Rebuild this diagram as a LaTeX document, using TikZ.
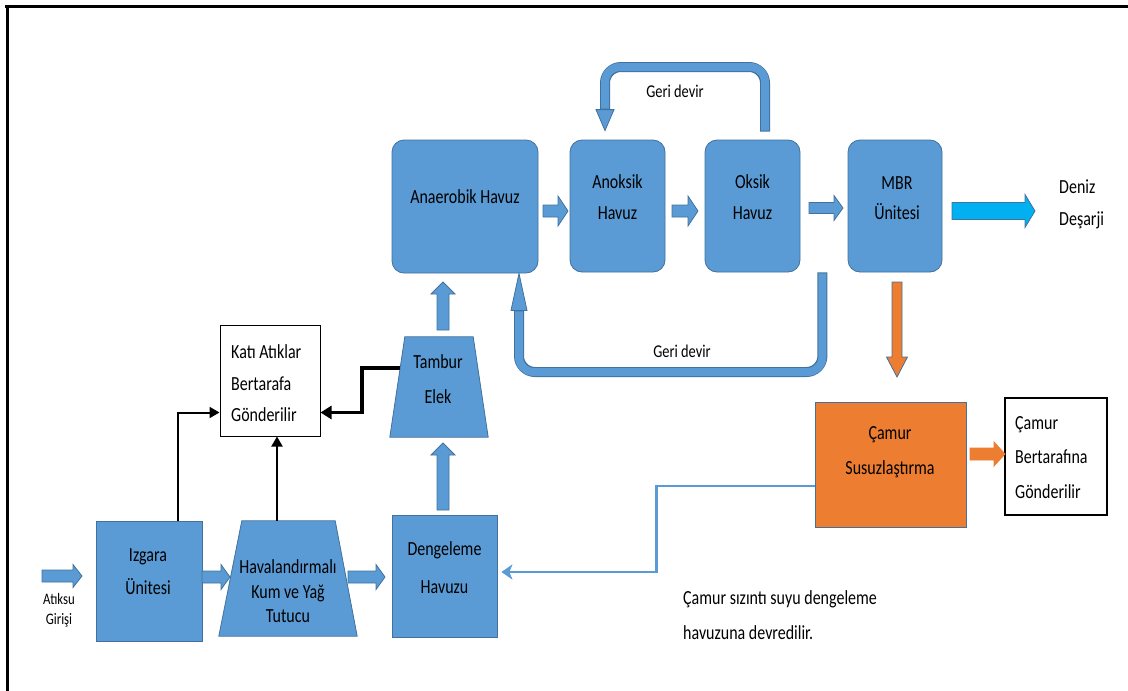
\documentclass[tikz,border=0pt]{standalone}
\usepackage{fontspec}
\setmainfont{Carlito}[FakeStretch=0.8]
\usetikzlibrary{calc,arrows.meta}
\definecolor{blu}{HTML}{5B9BD5}
\definecolor{bord}{HTML}{41719C}
\definecolor{org}{HTML}{ED7D31}
\definecolor{cyn}{HTML}{00B0F0}
\tikzset{
  pics/barrow/.style args={#1/#2/#3/#4/#5/#6}{code={
    \filldraw[fill=#5, draw=#6, line width=0.8pt] (0,-#2/2) -- ({#1-#4},-#2/2) -- ({#1-#4},-#3/2) -- (#1,0) -- ({#1-#4},#3/2) -- ({#1-#4},#2/2) -- (0,#2/2) -- cycle;
  }},
  rbox/.style={draw=bord, fill=blu, line width=0.8pt, rounded corners=12pt, inner sep=0},
  sbox/.style={draw=bord, fill=blu, line width=0.8pt, inner sep=0},
  wbox/.style={draw=black, line width=1pt, fill=white, inner sep=0},
  txt/.style={inner sep=0, align=center},
  ltxt/.style={inner sep=0, align=left, anchor=west},
  blk/.style={draw=black, line width=2pt, -{Triangle[length=10pt,width=11pt]}},
  blkthick/.style={draw=black, line width=3.5pt, -{Triangle[length=11pt,width=13pt]}},
  bandout/.style={draw=bord, line width=10pt, rounded corners=16pt},
  bandin/.style={draw=blu, line width=8pt, rounded corners=15pt},
  bandhead/.style={fill=blu, draw=bord, line width=0.8pt},
}
\begin{document}
\begin{tikzpicture}[x=1pt,y=-1pt, font=\fontsize{20}{31}\selectfont]
\useasboundingbox (0,0) rectangle (1128,691);
% frame
\draw[line width=3pt] (5,6) -- (1128,6);
\draw[line width=3pt] (7,4.5) -- (7,691);

% top row boxes
\node[rbox, minimum width=146pt, minimum height=133pt] (anaer) at (465,206.5) {};
\node[rbox, minimum width=95pt, minimum height=132pt] (anox) at (617.5,206) {};
\node[rbox, minimum width=95pt, minimum height=132pt] (oksik) at (752.5,206) {};
\node[rbox, minimum width=94pt, minimum height=132pt] (mbr) at (895,206) {};
\node[txt] (anaerT) at (465,197) {Anaerobik Havuz};
\node[txt] (anoxT) at (617.5,197.5) {Anoksik\\Havuz};
\node[txt] (oksikT) at (752.5,197.5) {Oksik\\Havuz};
\node[txt, font=\fontsize{20}{30}\selectfont] (mbrT) at (897,198) {MBR\\Ünitesi};
\node[ltxt, font=\fontsize{20}{32}\selectfont] (deniz) at (1059,204) {Deniz\\Deşarji};

% top row block arrows
\pic at (543,211) {barrow=25/12/30/10/blu/bord};
\pic at (672,211) {barrow=26/12/30/10/blu/bord};
\pic at (809,208) {barrow=34/11/25/9/blu/bord};
\pic at (952,211) {barrow=83/17/33/10/cyn/bord};

% top recirculation
\coordinate (g1s) at ($(oksik.north)+(12.5,-9)$);
\coordinate (g1e) at ($(anox.north)+(-12.5,-30)$);
\draw[bandout] ($(g1s)+(0,1)$) -- (g1s |- 0,67) -- (g1e |- 0,67) -- (g1e);
\draw[bandin] (g1s) -- (g1s |- 0,67) -- (g1e |- 0,67) -- ($(g1e)+(0,-1)$);
\filldraw[bandhead] ($(g1e)+(-9,0)$) -- ($(g1e)+(9,0)$) -- ($(anox.north)+(-12.5,-9)$) -- cycle;
\node[txt, font=\fontsize{18}{20}\selectfont] (geri1) at (675,91) {Geri devir};

% bottom recirculation
\coordinate (g2s) at ($(oksik.south east)+(22,1)$);
\coordinate (g2e) at ($(anaer.south)+(54,37)$);
\draw[bandout] ($(g2s)+(0,-1)$) -- (g2s |- 0,372) -- (g2e |- 0,372) -- (g2e);
\draw[bandin] (g2s) -- (g2s |- 0,372) -- (g2e |- 0,372) -- ($(g2e)+(0,1)$);
\filldraw[bandhead] ($(g2e)+(-8,0)$) -- ($(g2e)+(8,0)$) -- ($(anaer.south)+(54,0)$) -- cycle;
\node[txt, font=\fontsize{18}{20}\selectfont] (geri2) at (682,351) {Geri devir};

% MBR down arrow
\pic[rotate=-90] at (897,282) {barrow=95/10/21/20/org/bord};

% Tambur Elek
\node[inner sep=0, minimum width=98pt, minimum height=100pt] (tambur) at (439,387) {};
\coordinate (tl) at ($(tambur.north west)+(15,0)$);
\filldraw[fill=blu, draw=bord, line width=0.8pt] (tambur.south west) -- (tambur.south east) -- ($(tambur.north east)+(-15,0)$) -- (tl) -- cycle;
\node[txt, font=\fontsize{20}{35}\selectfont] (tamburT) at (438,379.5) {Tambur\\Elek};
\pic[rotate=90] at (443,330) {barrow=48/12/24/12/blu/bord};
\pic[rotate=90] at (443,510) {barrow=67/12/24/12/blu/bord};

% Kati atiklar
\node[wbox, minimum width=100pt, minimum height=111pt] (kati) at (270,380.5) {};
\node[ltxt, font=\fontsize{20}{31.5}\selectfont] (katiT) at (231,383.5) {Katı Atıklar\\Bertarafa\\Gönderilir};

% bottom row
\node[sbox, minimum width=106pt, minimum height=120pt] (izgara) at (149,581) {};
\node[txt, font=\fontsize{20}{33}\selectfont] (izgaraT) at (148,571.5) {Izgara\\Ünitesi};
\node[inner sep=0, minimum width=138pt, minimum height=115pt] (hav) at (288,578.5) {};
\filldraw[fill=blu, draw=bord, line width=0.8pt] (hav.south west) -- (hav.south east) -- ($(hav.north east)+(-22,0)$) -- ($(hav.north west)+(23,0)$) -- cycle;
\node[txt, font=\fontsize{20}{24.5}\selectfont] (havT) at (288,591.5) {Havalandırmalı\\Kum ve Yağ\\Tutucu};
\node[sbox, minimum width=105pt, minimum height=122pt] (deng) at (444.5,576) {};
\node[txt, font=\fontsize{20}{38}\selectfont] (dengT) at (444.5,567.5) {Dengeleme\\Havuzu};

\pic at (42,576) {barrow=40/12/23/9/blu/bord};
\pic at (202,577) {barrow=28/12/25/9/blu/bord};
\pic at (348,577) {barrow=37/12/25/9/blu/bord};
\node[txt, font=\fontsize{16}{20}\selectfont] (atiksu) at (59,610) {Atıksu\\Girişi};

% connectors to Kati
\coordinate (tamL) at ($(tl)!0.31!(tambur.south west)$);
\draw[blkthick] (tamL) -- ++(-38,0) |- ($(kati.east)+(0,32)$);
\draw[blk] ($(izgara.north)+(29,0)$) |- ($(kati.west)+(0,32)$);
\draw[blk] ($(hav.north)+(-11,0)$) -- ($(kati.south)+(7,0)$);

% sludge
\node[draw=bord, fill=org, line width=0.8pt, inner sep=0, minimum width=151pt, minimum height=125pt] (camur) at (890.5,464.5) {};
\node[txt, font=\fontsize{20}{35}\selectfont] (camurT) at (890,452.5) {Çamur\\Susuzlaştırma};
\node[draw=black, line width=1.5pt, inner sep=0, minimum width=102pt, minimum height=117pt] (camurb) at (1056,456.5) {};
\node[ltxt, font=\fontsize{20}{34.5}\selectfont] (camurbT) at (1015,457.5) {Çamur\\Bertarafına\\Gönderilir};
\pic at (970,454) {barrow=35/12/24/11/org/org};

\draw[blu, line width=2.5pt, -{Stealth[length=11pt,width=15pt,inset=3pt]}] ($(camur.west)+(0,21.5)$) -- ++(-158,0) |- ($(deng.east)+(4,-4)$);
\node[ltxt, font=\fontsize{20}{35}\selectfont] (note) at (683,615.5) {Çamur sızıntı suyu dengeleme\\havuzuna devredilir.};
\end{tikzpicture}
\end{document}
